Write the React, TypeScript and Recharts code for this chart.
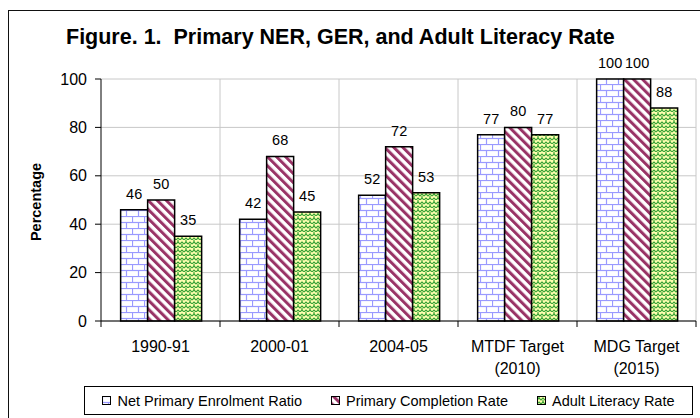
import { Bar, BarChart, CartesianGrid, LabelList, Legend, XAxis, YAxis } from "recharts";

const FONT = "'Liberation Sans', Arial, sans-serif";

const categories = ["1990-91", "2000-01", "2004-05", "MTDF Target\n(2010)", "MDG Target\n(2015)"];
const netEnrolment = [46, 42, 52, 77, 100];
const completion = [50, 68, 72, 80, 100];
const literacy = [35, 45, 53, 77, 88];
const yTicks = [0, 20, 40, 60, 80, 100];

const series = [
  { key: "ner", name: "Net Primary Enrolment Ratio", fill: "url(#brick)" },
  { key: "pcr", name: "Primary Completion Rate", fill: "url(#stripe)" },
  { key: "alr", name: "Adult Literacy Rate", fill: "url(#weave)" },
];

const data = categories.map((cat, i) => ({
  cat,
  ner: netEnrolment[i],
  pcr: completion[i],
  alr: literacy[i],
}));

// category labels + boundary tick marks (Excel puts ticks between groups)
function CatTick(props: any) {
  const { x, y, payload, index } = props;
  const half = payload?.offset ?? 59.5;
  const axisY = y - 8;
  const lines = String(payload.value).split("\n");
  return (
    <g>
      <line x1={x - half} x2={x - half} y1={axisY} y2={axisY + 6} stroke="#000" />
      {index === categories.length - 1 && (
        <line x1={x + half} x2={x + half} y1={axisY} y2={axisY + 6} stroke="#000" />
      )}
      <text x={x} y={axisY + 31} textAnchor="middle" fontSize={16} fill="#000" fontFamily={FONT}>
        {lines.map((l, i) => (
          <tspan key={i} x={x} dy={i === 0 ? 0 : 22}>
            {l}
          </tspan>
        ))}
      </text>
    </g>
  );
}

function LegendBox() {
  return (
    <div
      style={{
        boxSizing: "border-box",
        height: 29,
        border: "1px solid #000",
        display: "flex",
        alignItems: "center",
        justifyContent: "center",
        gap: 29,
        fontFamily: FONT,
        fontSize: 14.5,
        color: "#000",
        background: "#fff",
      }}
    >
      {series.map((s) => (
        <div key={s.key} style={{ display: "flex", alignItems: "center" }}>
          <svg width={9} height={9} style={{ marginRight: 6 }}>
            <rect x={0.5} y={0.5} width={8} height={8} fill={s.fill} stroke="#000" />
          </svg>
          <span>{s.name}</span>
        </div>
      ))}
    </div>
  );
}

export default function App() {
  return (
    <div style={{ position: "absolute", left: 0, top: 0, width: 700, height: 418, background: "#fff", overflow: "hidden" }}>
      <div
        style={{
          position: "absolute",
          left: 8,
          top: 10,
          width: 720,
          height: 440,
          border: "1.5px solid #111",
        }}
      />
      <div style={{ position: "absolute", left: 0, top: 0 }}>
        <BarChart
          width={700}
          height={418}
          data={data}
          margin={{ top: 79, right: 4, bottom: 0, left: 0 }}
          barCategoryGap="16.5%"
          barGap={0}
        >
          <defs>
            <pattern id="brick" width={12} height={12} patternUnits="userSpaceOnUse">
              <rect width={12} height={12} fill="#fff" />
              <g stroke="#9a9aff" strokeWidth={1.2}>
                <line x1={0} y1={0.5} x2={12} y2={0.5} />
                <line x1={0} y1={6.5} x2={12} y2={6.5} />
                <line x1={0.5} y1={0} x2={0.5} y2={6} />
                <line x1={6.5} y1={6} x2={6.5} y2={12} />
              </g>
            </pattern>
            <pattern id="stripe" width={6.4} height={10} patternUnits="userSpaceOnUse" patternTransform="rotate(-45)">
              <rect width={6.4} height={10} fill="#fff" />
              <rect width={3} height={10} fill="#993366" />
            </pattern>
            <pattern id="weave" width={8} height={8} patternUnits="userSpaceOnUse">
              <rect width={8} height={8} fill="#ffffb0" />
              <g stroke="#33a033" strokeWidth={1.1} fill="none">
                <polyline points="0,4 2,2 4,4 6,2 8,4" />
                <polyline points="0,8 2,6 4,8 6,6 8,8" />
                <line x1={2} y1={2} x2={2} y2={0} />
                <line x1={6} y1={6} x2={6} y2={4} />
              </g>
            </pattern>
          </defs>
          <text
            x={66}
            y={44}
            fontSize={21.5}
            fontWeight="bold"
            fontFamily={FONT}
            fill="#000"
            style={{ whiteSpace: "pre" }}
            xmlSpace="preserve"
          >
            {"Figure. 1.  Primary NER, GER, and Adult Literacy Rate"}
          </text>
          <text
            transform="translate(41,202) rotate(-90)"
            textAnchor="middle"
            fontSize={14.5}
            fontWeight="bold"
            fontFamily={FONT}
            fill="#000"
          >
            Percentage
          </text>
          <CartesianGrid
            stroke="#c8c8c8"
            verticalCoordinatesGenerator={({ offset }: any) =>
              categories.map((_, i) => offset.left + ((i + 1) * offset.width) / categories.length)
            }
          />
          <XAxis
            dataKey="cat"
            interval={0}
            height={68}
            tickLine={false}
            tickSize={6}
            tickMargin={2}
            axisLine={{ stroke: "#000" }}
            tick={<CatTick />}
          />
          <YAxis
            width={101}
            domain={[0, 100]}
            ticks={yTicks}
            tickSize={6}
            tickMargin={8}
            tickLine={{ stroke: "#000" }}
            axisLine={{ stroke: "#000" }}
            tick={{ fontSize: 16, fill: "#000", fontFamily: FONT }}
          />
          <Legend
            content={<LegendBox />}
            wrapperStyle={{ left: 84, top: 386, width: 609, height: 29 }}
          />
          {series.map((s) => (
            <Bar
              key={s.key}
              dataKey={s.key}
              name={s.name}
              fill={s.fill}
              stroke="#000"
              strokeWidth={1.5}
              isAnimationActive={false}
            >
              <LabelList
                dataKey={s.key}
                position="top"
                offset={11}
                fontSize={14.5}
                fill="#000"
                fontFamily={FONT}
              />
            </Bar>
          ))}
        </BarChart>
      </div>
    </div>
  );
}
